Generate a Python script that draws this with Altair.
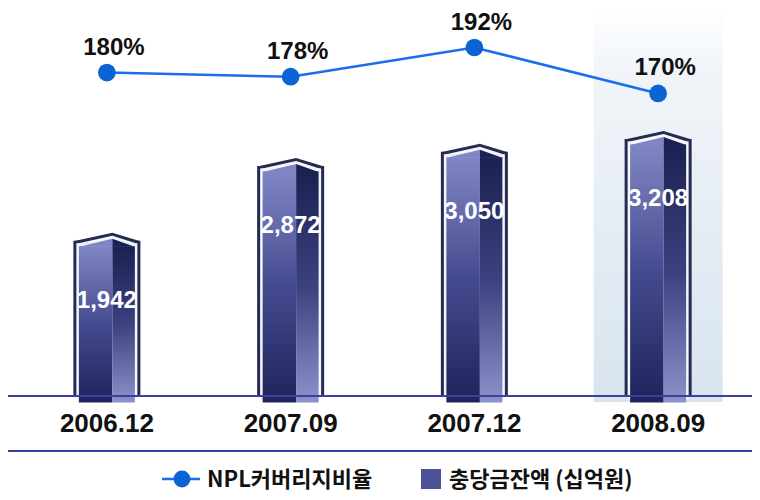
import altair as alt
import pandas as pd

categories = ["2006.12", "2007.09", "2007.12", "2008.09"]
reserves = [1942, 2872, 3050, 3208]
ratios = [180, 178, 192, 170]
reserve_labels = ["1,942", "2,872", "3,050", "3,208"]
ratio_labels = ["180%", "178%", "192%", "170%"]
highlight = ["2008.09"]
legend_labels = ["NPL커버리지비율", "충당금잔액 (십억원)"]

df = pd.DataFrame({"cat": categories, "reserve": reserves, "ratio": ratios,
                   "rlabel": reserve_labels, "plabel": ratio_labels})
hl = pd.DataFrame({"cat": highlight})
one = pd.DataFrame({"k": [0]})
leg1 = pd.DataFrame({"label": [legend_labels[0]]})
leg2 = pd.DataFrame({"label": [legend_labels[1]]})

W, H = 735, 389
xs = alt.X("cat:N", scale=alt.Scale(type="band", domain=categories, paddingInner=0, paddingOuter=0), axis=None)
ybar = alt.Y("reserve:Q", scale=alt.Scale(domain=[0, 4838], nice=False, zero=True), axis=None)
yline = alt.Y("ratio:Q", scale=alt.Scale(domain=[24.53, 210.93], nice=False, zero=False), axis=None)

def grad(stops):
    return alt.Gradient(gradient="linear",
                        stops=[alt.GradientStop(offset=o, color=c) for o, c in stops],
                        x1=0, x2=0, y1=0, y2=1)

BLUE = "#1a6cf0"
DOT = "#0b63d6"
OUTER = "#262b52"
WHITE = "#f5f6fb"
L_TOP, L_BOT = "#8086c4", "#1f245c"
R_TOP, R_BOT = "#1c2152", "#8c92ca"

highlight_layer = alt.Chart(hl).mark_bar(
    width=129,
    color=grad([(0, "#ffffff"), (0.15, "#f1f5f9"), (1, "#d8e4ee")]),
).encode(x=xs, y=alt.value(0), y2=alt.value(394))

def bar(width, xoff, color, yoff=0):
    return alt.Chart(df).mark_bar(width=width, xOffset=xoff, yOffset=yoff, color=color).encode(x=xs, y=ybar)

def roof(path, color):
    return alt.Chart(df).mark_point(shape=path, size=4, filled=True, color=color,
                                    opacity=1, strokeWidth=0).encode(x=xs, y=ybar)

outer = bar(67, 0, OUTER)
outer_roof = roof("M-33.5,0.5 L5.5,-8 L33.5,0.5 Z", OUTER)
white = bar(61, 0, WHITE, 2.5)
white_roof = roof("M-30.5,3 L5.5,-5 L30.5,3 Z", WHITE)
left_face = bar(33.5, -11.25, grad([(0, L_TOP), (0.5, "#444a8e"), (1, L_BOT)]), 5.5)
left_roof = roof("M-28,6 L5.5,-2 L5.5,6 Z", L_TOP)
right_face = bar(22.5, 16.75, grad([(0, R_TOP), (0.5, "#3c4280"), (1, R_BOT)]), 5.5)
right_roof = roof("M5.5,-2 L28,6 L5.5,6 Z", R_TOP)

bar_labels = alt.Chart(df).mark_text(
    fontSize=24, fontWeight="bold", font="Liberation Sans", color="white",
    baseline="alphabetic", dy=67,
).encode(x=xs, y=ybar, text="rlabel:N")

line = alt.Chart(df).mark_line(color=BLUE, strokeWidth=2.5).encode(x=xs, y=yline)
dots = alt.Chart(df).mark_circle(size=314, color=DOT, opacity=1).encode(x=xs, y=yline)
pct_labels = alt.Chart(df).mark_text(
    fontSize=24, fontWeight="bold", font="Liberation Sans", color="#111111",
    baseline="alphabetic", dx=7, dy=-18,
).encode(x=xs, y=yline, text="plabel:N")

axis_line = alt.Chart(one).mark_rule(color="#3b40a0", strokeWidth=2).encode(
    x=alt.value(-8), x2=alt.value(737), y=alt.value(388))
bottom_line = alt.Chart(one).mark_rule(color="#3b40a0", strokeWidth=2).encode(
    x=alt.value(-8), x2=alt.value(737), y=alt.value(443))

cat_labels = alt.Chart(df).mark_text(
    fontSize=26, fontWeight="bold", font="Liberation Sans", color="#111111",
    baseline="alphabetic",
).encode(x=xs, y=alt.value(424), text="cat:N")

LY = 471
leg_line = alt.Chart(one).mark_rule(color=BLUE, strokeWidth=2.5).encode(
    x=alt.value(147), x2=alt.value(185), y=alt.value(LY))
leg_dot = alt.Chart(one).mark_circle(size=284, color=DOT, opacity=1).encode(
    x=alt.value(167), y=alt.value(LY))
leg_text1 = alt.Chart(leg1).mark_text(
    fontSize=22, fontWeight="bold", font="Noto Sans CJK KR", color="#111111",
    align="left", baseline="alphabetic",
).encode(x=alt.value(192), y=alt.value(LY + 7.5), text="label:N")
leg_sq = alt.Chart(one).mark_square(size=400, color="#4b5194", opacity=1).encode(
    x=alt.value(416), y=alt.value(LY))
leg_text2 = alt.Chart(leg2).mark_text(
    fontSize=22, fontWeight="bold", font="Noto Sans CJK KR", color="#111111",
    align="left", baseline="alphabetic",
).encode(x=alt.value(434), y=alt.value(LY + 7.5), text="label:N")

chart = alt.layer(
    highlight_layer,
    outer, outer_roof, white, white_roof,
    left_face, left_roof, right_face, right_roof,
    bar_labels,
    line, dots, pct_labels,
    axis_line, bottom_line, cat_labels,
    leg_line, leg_dot, leg_text1, leg_sq, leg_text2,
).resolve_scale(y="independent").properties(
    width=W, height=H,
    autosize=alt.AutoSizeParams(type="none"),
    padding={"left": 7, "top": 0, "right": 2, "bottom": 95},
).configure_view(stroke=None)

chart.save("out.html", embed_options={"renderer": "svg", "actions": False})
